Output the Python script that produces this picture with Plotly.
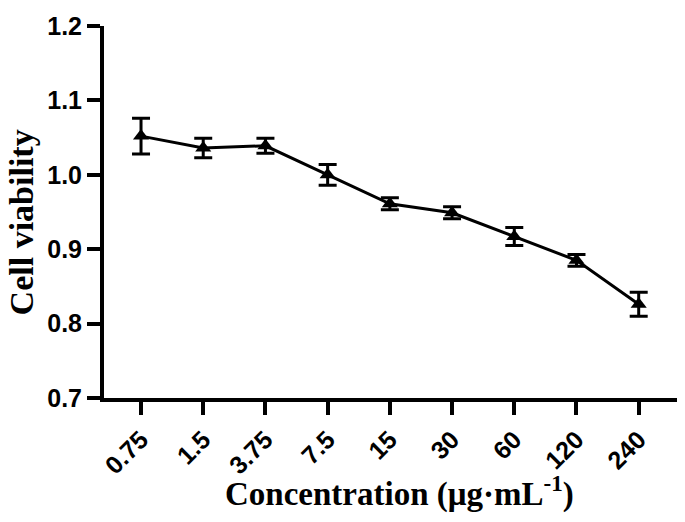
import plotly.graph_objects as go

concentrations = ["0.75", "1.5", "3.75", "7.5", "15", "30", "60", "120", "240"]
viability = [1.052, 1.036, 1.039, 1.000, 0.961, 0.949, 0.917, 0.885, 0.826]
errors = [0.024, 0.013, 0.010, 0.014, 0.008, 0.008, 0.012, 0.008, 0.016]
y_ticks = [0.7, 0.8, 0.9, 1.0, 1.1, 1.2]

fig = go.Figure()
fig.add_trace(go.Scatter(
    x=list(range(len(concentrations))),
    y=viability,
    mode="lines+markers",
    line=dict(color="black", width=3),
    marker=dict(symbol="triangle-up", size=14, color="black"),
    error_y=dict(type="data", array=errors, visible=True, color="black",
                 thickness=3, width=9),
    showlegend=False,
))

tickfont = dict(family="Liberation Sans, Arial, sans-serif", size=25, color="black")
serif = "Liberation Serif, Times New Roman, serif"

fig.update_xaxes(
    range=[-0.595, 8.68],
    tickmode="array",
    tickvals=list(range(len(concentrations))),
    ticktext=[f"<b>{c}</b>" for c in concentrations],
    tickangle=-45,
    ticks="outside", ticklen=13, tickwidth=4, tickcolor="black",
    showline=True, linewidth=4, linecolor="black",
    showgrid=False, zeroline=False,
    tickfont=tickfont,
)
fig.update_yaxes(
    range=[0.7, 1.2],
    tickmode="array",
    tickvals=y_ticks,
    ticktext=[f"<b>{v:.1f}</b>" for v in y_ticks],
    ticks="outside", ticklen=13, tickwidth=4, tickcolor="black",
    showline=True, linewidth=4, linecolor="black",
    showgrid=False, zeroline=False,
    tickfont=tickfont,
    ticklabeloverflow="allow",
)

fig.add_annotation(
    text="<b>Concentration (μg·mL<sup>-1</sup>)</b>",
    xref="paper", yref="paper", x=0.5113, y=-0.2507,
    xanchor="center", yanchor="middle", showarrow=False,
    font=dict(family=serif, size=33, color="black"),
)
fig.add_annotation(
    text="<b>Cell viability</b>",
    xref="paper", yref="paper", x=-0.1430, y=0.4734,
    xanchor="center", yanchor="middle", showarrow=False, textangle=-90,
    font=dict(family=serif, size=34, color="black"),
)

fig.update_layout(
    width=677, height=514,
    margin=dict(l=96, r=4, t=7, b=124),
    plot_bgcolor="white", paper_bgcolor="white",
)

fig.write_html("out.html")
